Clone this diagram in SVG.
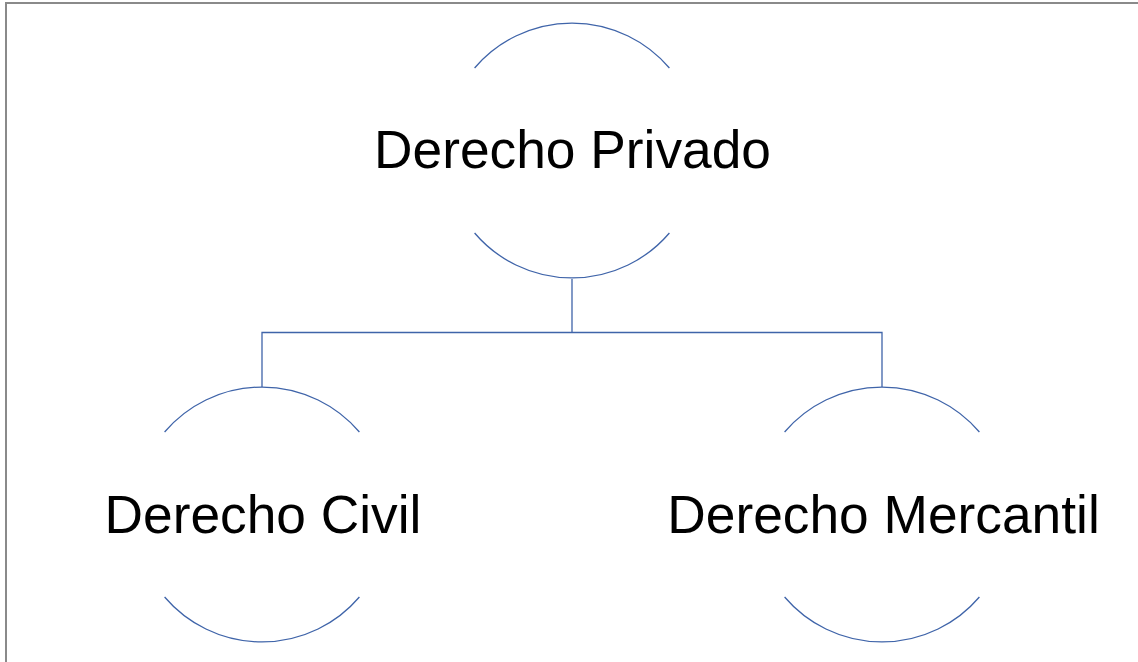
<svg xmlns="http://www.w3.org/2000/svg" width="1138" height="662" viewBox="0 0 1138 662">
<style>
.arc{fill:none;stroke:#3f64a9;stroke-width:1.3}
.conn{fill:none;stroke:#3f64a9;stroke-width:1.3}
.lbl{font-family:"Liberation Sans",Arial,sans-serif;font-size:53.3px;fill:#000;text-anchor:middle}
</style>
<rect width="1138" height="662" fill="#fff"/>
<path d="M6,662 V3 H1138" fill="none" stroke="#8a8a8a" stroke-width="2"/>
<g id="connectors">
<path class="conn" d="M572,279 V332.5 M262,387 V332.5 H882 V387"/>
</g>
<g id="node-privado">
<path class="arc" d="M474.6,68 A128,128 0 0 1 669.4,68"/>
<path class="arc" d="M474.6,233 A128,128 0 0 0 669.4,233"/>
<text class="lbl" x="572.5" y="167.5">Derecho Privado</text>
</g>
<g id="node-civil">
<path class="arc" d="M164.6,432 A128,128 0 0 1 359.4,432"/>
<path class="arc" d="M164.6,597 A128,128 0 0 0 359.4,597"/>
<text class="lbl" x="263" y="532.5">Derecho Civil</text>
</g>
<g id="node-mercantil">
<path class="arc" d="M784.6,432 A128,128 0 0 1 979.4,432"/>
<path class="arc" d="M784.6,597 A128,128 0 0 0 979.4,597"/>
<text class="lbl" x="883.5" y="532.5">Derecho Mercantil</text>
</g>
</svg>
